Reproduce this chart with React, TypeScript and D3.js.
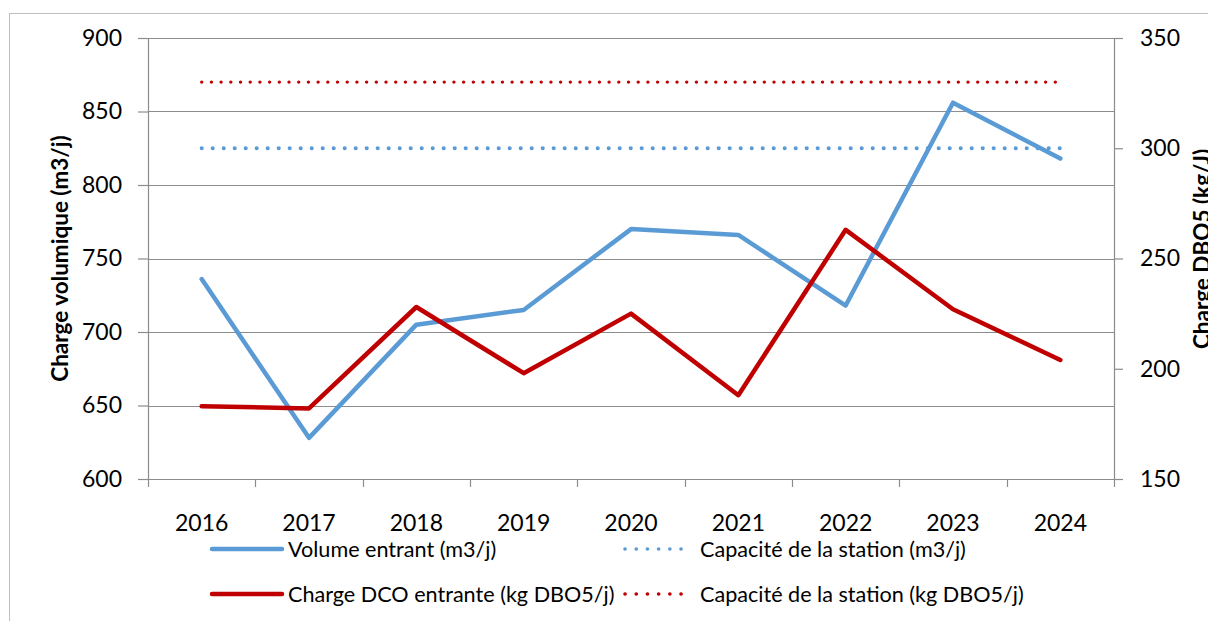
import { useEffect, useRef } from 'react';
import * as d3 from 'd3';

const years = ['2016', '2017', '2018', '2019', '2020', '2021', '2022', '2023', '2024'];
const volumeEntrant = [736, 628, 705, 715, 770, 766, 718, 856, 818];
const chargeDco = [183, 182, 228, 198, 225, 188, 263, 227, 204];
const capaciteVolume = [825, 825, 825, 825, 825, 825, 825, 825, 825];
const capaciteCharge = [330, 330, 330, 330, 330, 330, 330, 330, 330];
const leftTicks = [600, 650, 700, 750, 800, 850, 900];
const rightTicks = [150, 200, 250, 300, 350];

const BLUE = '#5B9BD5';
const RED = '#C00000';
const AXIS = '#8c8c8c';
const FONT = 'Lato, "Open Sans", sans-serif';

const App = () => {
  const svgRef = useRef<SVGSVGElement>(null);

  useEffect(() => {
    const svg = d3.select(svgRef.current);
    svg.selectAll('*').remove();
    const width = 1208;
    const height = 621;
    const margin = { top: 38, right: 94, bottom: 142, left: 148 };
    const x0 = margin.left;
    const x1 = width - margin.right;
    const y0 = margin.top;
    const y1 = height - margin.bottom;

    const xScale = d3.scaleBand().domain(years).range([x0, x1]);
    const yLeft = d3.scaleLinear().domain([600, 900]).range([y1, y0]);
    const yRight = d3.scaleLinear().domain([150, 350]).range([y1, y0]);
    const cx = (d: string) => (xScale(d) as number) + xScale.bandwidth() / 2;

    // chart frame
    svg
      .append('rect')
      .attr('x', 9.5)
      .attr('y', 13.5)
      .attr('width', 1400)
      .attr('height', 800)
      .attr('fill', 'white')
      .attr('stroke', '#bfbfbf');

    // gridlines
    svg
      .append('g')
      .selectAll('line')
      .data(leftTicks.slice(1))
      .enter()
      .append('line')
      .attr('x1', x0)
      .attr('x2', x1)
      .attr('y1', (d) => Math.round(yLeft(d)) + 0.5)
      .attr('y2', (d) => Math.round(yLeft(d)) + 0.5)
      .attr('stroke', AXIS)
      .attr('stroke-width', 1.2);

    // left axis
    const gl = svg
      .append('g')
      .attr('transform', `translate(${x0},0)`)
      .call(d3.axisLeft(yLeft).tickValues(leftTicks).tickSize(10).tickSizeOuter(0).tickPadding(16));
    // right axis
    const gr = svg
      .append('g')
      .attr('transform', `translate(${x1},0)`)
      .call(d3.axisRight(yRight).tickValues(rightTicks).tickSize(9).tickSizeOuter(0).tickPadding(17));
    // bottom axis
    const gb = svg
      .append('g')
      .attr('transform', `translate(0,${y1})`)
      .call(d3.axisBottom(xScale).tickSize(0).tickSizeOuter(0).tickPadding(36));
    gb.selectAll('.tick line').remove();
    svg
      .append('g')
      .selectAll('line')
      .data([...years.map((d) => xScale(d) as number), x1])
      .enter()
      .append('line')
      .attr('x1', (d) => Math.round(d) + 0.5)
      .attr('x2', (d) => Math.round(d) + 0.5)
      .attr('y1', y1)
      .attr('y2', y1 + 8)
      .attr('stroke', AXIS)
      .attr('stroke-width', 1.2);

    [gl, gr, gb].forEach((g) => {
      g.selectAll('.domain').attr('stroke', AXIS).attr('stroke-width', 1.2);
      g.selectAll('.tick line').attr('stroke', AXIS).attr('stroke-width', 1.2);
      g.selectAll('text')
        .attr('fill', '#000')
        .style('font-family', FONT)
        .style('font-size', '23px');
    });

    // axis titles
    svg
      .append('text')
      .attr('transform', `translate(68,${(y0 + y1) / 2}) rotate(-90)`)
      .attr('text-anchor', 'middle')
      .style('font-family', FONT)
      .style('font-weight', 'bold')
      .style('font-size', '22.5px')
      .text('Charge volumique (m3/j)');
    svg
      .append('text')
      .attr('transform', `translate(1210,249) rotate(-90)`)
      .attr('text-anchor', 'middle')
      .style('font-family', FONT)
      .style('font-weight', 'bold')
      .style('font-size', '22.5px')
      .text('Charge DBO5 (kg/J)');

    const lineL = d3
      .line<number>()
      .x((_, i) => cx(years[i]))
      .y((d) => yLeft(d));
    const lineR = d3
      .line<number>()
      .x((_, i) => cx(years[i]))
      .y((d) => yRight(d));

    svg
      .append('path')
      .attr('d', lineL(capaciteVolume))
      .attr('fill', 'none')
      .attr('stroke', BLUE)
      .attr('stroke-width', 4)
      .attr('stroke-linecap', 'round')
      .attr('stroke-dasharray', '0.1 10.9');
    svg
      .append('path')
      .attr('d', lineR(capaciteCharge))
      .attr('fill', 'none')
      .attr('stroke', RED)
      .attr('stroke-width', 3.3)
      .attr('stroke-linecap', 'round')
      .attr('stroke-dasharray', '0.1 9.6');
    svg
      .append('path')
      .attr('d', lineL(volumeEntrant))
      .attr('fill', 'none')
      .attr('stroke', BLUE)
      .attr('stroke-width', 4.5)
      .attr('stroke-linejoin', 'round')
      .attr('stroke-linecap', 'round');
    svg
      .append('path')
      .attr('d', lineR(chargeDco))
      .attr('fill', 'none')
      .attr('stroke', RED)
      .attr('stroke-width', 4.5)
      .attr('stroke-linejoin', 'round')
      .attr('stroke-linecap', 'round');

    // legend
    const legend = [
      { label: 'Volume entrant (m3/j)', color: BLUE, dotted: false, x: 212, y: 549 },
      { label: 'Capacité de la station (m3/j)', color: BLUE, dotted: true, x: 625, y: 549 },
      { label: 'Charge DCO entrante (kg DBO5/j)', color: RED, dotted: false, x: 212, y: 594 },
      { label: 'Capacité de la station (kg DBO5/j)', color: RED, dotted: true, x: 625, y: 594 },
    ];
    const lg = svg
      .append('g')
      .selectAll('g')
      .data(legend)
      .enter()
      .append('g')
      .attr('transform', (d) => `translate(${d.x},${d.y})`);
    lg.append('line')
      .attr('x1', 0)
      .attr('x2', (d) => (d.dotted ? 67 : 70))
      .attr('y1', 0)
      .attr('y2', 0)
      .attr('stroke', (d) => d.color)
      .attr('stroke-width', (d) => (d.dotted ? 3.6 : 4.5))
      .attr('stroke-linecap', 'round')
      .attr('stroke-dasharray', (d) => (d.dotted ? '0.1 11.1' : null));
    lg.append('text')
      .attr('x', (d) => (d.dotted ? 75 : 76))
      .attr('y', 0)
      .attr('dy', '0.35em')
      .style('font-family', FONT)
      .style('font-size', '21.6px')
      .text((d) => d.label);
  }, []);

  return (
    <svg
      ref={svgRef}
      width="1208"
      height="621"
      style={{ position: 'fixed', left: 0, top: 0, background: 'white' }}
    ></svg>
  );
};

export default App;
